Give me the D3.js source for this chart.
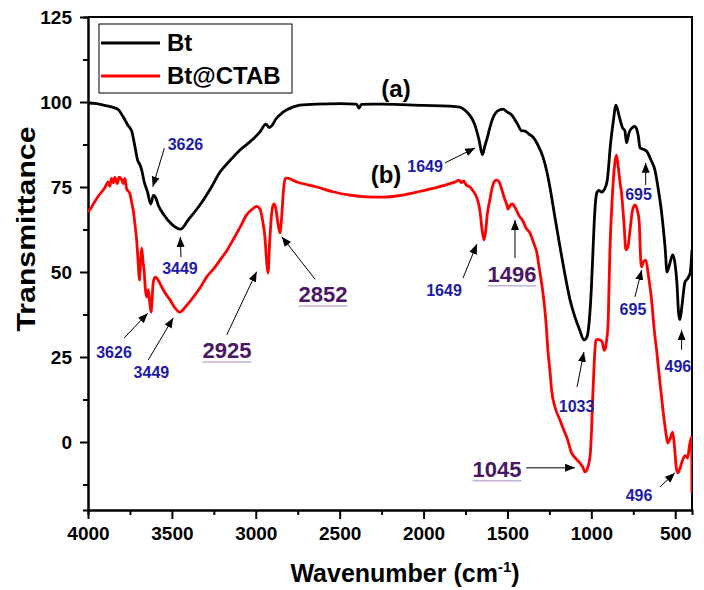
<!DOCTYPE html>
<html>
<head>
<meta charset="utf-8">
<script src="https://cdn.jsdelivr.net/npm/d3@7"></script>
<style>
  body { margin: 0; background: #fff; }
  text { font-family: "Liberation Sans", Arial, sans-serif; font-weight: bold; }
</style>
</head>
<body>
<div id="chart"></div>
<script>
// Bt spectrum (wavenumber, transmittance)
var btWave = [4000, 3950, 3900, 3850, 3820, 3790, 3760, 3740, 3720, 3705, 3690, 3680, 3665, 3645, 3626, 3610, 3598, 3580, 3550, 3500,
  3449, 3400, 3333, 3270, 3213, 3150, 3094, 3030, 2975, 2940, 2920, 2905, 2880, 2838, 2780, 2737, 2635, 2500, 2400, 2385,
  2370, 2300, 2242, 2000, 1850, 1783, 1760, 1735, 1710, 1694, 1670, 1649, 1635, 1620, 1604, 1585, 1565, 1545, 1527, 1500,
  1475, 1440, 1415, 1400, 1370, 1348, 1320, 1288, 1265, 1247, 1220, 1187, 1160, 1127, 1098, 1070, 1044, 1026, 1010, 1000,
  990, 979, 968, 955, 939, 920, 905, 885, 870, 853, 835, 815, 800, 790, 775, 755, 740, 720, 710, 695,
  670, 645, 621, 600, 581, 560, 549, 535, 515, 500, 490, 480, 472, 460, 442, 424, 410, 400];
var btTrans = [99.7, 99.5, 99.0, 98.4, 97.8, 95.6, 93.0, 91.5, 86.8, 83, 81.5, 80, 76.5, 73.5, 70.0, 72.5, 72.0, 69.5, 67, 64,
  62.6, 65.5, 69.7, 74.5, 79.4, 83, 85.9, 88.5, 91.2, 93.5, 92.5, 93.0, 95.0, 97, 98.5, 99.1, 99.4, 99.5, 99.4, 98.2,
  99.3, 99.4, 99.4, 99, 98.8, 98.5, 97.8, 96.7, 95, 93.2, 89, 84.5, 87, 89.5, 92.6, 95.5, 97.1, 97.7, 97.9, 97,
  96.2, 93.5, 91.5, 91.5, 90.5, 89.7, 87.5, 83.8, 79.5, 75, 67, 57.4, 50, 41.8, 36.8, 33, 30, 30.9, 37, 45,
  56.5, 68, 73.2, 74, 73.5, 74.5, 77, 88, 94, 99.1, 96, 92.5, 91.5, 88, 91, 92.5, 92.8, 90, 86.5, 86.2,
  85.5, 83, 80, 74, 67.4, 57, 50, 52, 55, 52, 46.8, 38, 36, 40, 47, 48.2, 50, 56.5];

// Bt@CTAB spectrum
var ctabWave = [4000, 3980, 3950, 3920, 3900, 3880, 3870, 3860, 3850, 3840, 3825, 3815, 3800, 3790, 3780, 3770, 3750, 3740, 3730, 3720,
  3710, 3700, 3694, 3687, 3680, 3672, 3666, 3658, 3650, 3641, 3632, 3624, 3617, 3611, 3600, 3590, 3575, 3561, 3540, 3511,
  3480, 3452, 3420, 3372, 3330, 3293, 3250, 3213, 3170, 3136, 3090, 3055, 3020, 2995, 2975, 2960, 2945, 2935, 2927, 2918,
  2905, 2893, 2882, 2870, 2856, 2846, 2835, 2825, 2816, 2750, 2637, 2540, 2439, 2340, 2242, 2140, 2041, 1950, 1843, 1810,
  1790, 1775, 1760, 1745, 1723, 1700, 1680, 1664, 1650, 1640, 1630, 1620, 1604, 1590, 1575, 1565, 1550, 1535, 1520, 1505,
  1496, 1485, 1470, 1455, 1430, 1408, 1390, 1366, 1340, 1326, 1310, 1288, 1270, 1259, 1245, 1237, 1215, 1187, 1160, 1147,
  1118, 1090, 1068, 1050, 1038, 1025, 1008, 1000, 992, 988, 980, 973, 960, 949, 935, 925, 919, 910, 900, 895,
  889, 875, 860, 850, 840, 828, 820, 805, 794, 782, 770, 755, 740, 725, 715, 705, 700, 690, 675, 660,
  641, 625, 611, 592, 573, 555, 545, 530, 515, 505, 495, 485, 470, 456, 440, 426, 415, 402, 400];
var ctabTrans = [67.6, 69, 71.5, 73.5, 74.7, 76.5, 75.2, 77.5, 76.2, 77.8, 76, 77.9, 77.2, 76, 77.5, 74.5, 73, 70.5, 68, 64,
  59.4, 52, 47.6, 53, 57, 53, 50.6, 45, 42.6, 44.7, 41, 38.2, 43, 47, 48.5, 48.2, 47, 45.6, 43.8, 41.8,
  39.3, 38.2, 39.7, 42.6, 45.5, 48.5, 51, 53.5, 56.5, 59.4, 63.5, 66.8, 68.5, 69.3, 68.5, 65.3, 60, 53, 49.7, 58,
  67.4, 70, 69, 65, 61.5, 66, 74, 77.5, 77.6, 76.4, 75, 73.6, 72.6, 72.1, 72, 72.5, 73.5, 74.5, 76, 76.5,
  77, 76.3, 76.8, 75.5, 75, 73.5, 71.5, 68, 62, 59.4, 62, 67, 71.5, 75, 76.8, 77, 76.5, 74.5, 72, 70,
  68.5, 69.5, 70, 69, 66.5, 65, 63, 61.5, 58, 56, 51, 43.8, 35, 27, 20, 15.3, 10, 6.5, 3, 1.5,
  -3.2, -5, -6.2, -7.5, -8.8, -8, -4.4, 2, 13, 17.4, 26, 30, 30.2, 30, 29.5, 27, 27, 29.5, 35, 45,
  56.5, 72, 82, 84.4, 81, 76, 73.2, 64, 56.5, 57.4, 62, 68, 69.7, 68, 65, 53, 51.5, 53, 53.5, 49,
  41.8, 33, 27, 18, 9.4, 2.5, -0.3, 1, 2.9, -1, -7, -9.1, -7.5, -5.3, -4, -4.7, -1, 1.5, -15];

var xTicks = [4000, 3500, 3000, 2500, 2000, 1500, 1000, 500];
var xMinor = [3750, 3250, 2750, 2250, 1750, 1250, 750];
var yTicks = [0, 25, 50, 75, 100, 125];
var yMinor = [-12.5, 12.5, 37.5, 62.5, 87.5, 112.5];

// peak labels (text position in cm-1 / %), arrows from -> to
var peakNames = ["3626", "3449", "1649", "695", "1033", "496", "3626", "3449", "2925", "2852", "1649", "1496", "695", "1045", "496"];
var peakAt = [[3419, 85.9], [3452, 49.4], [1991, 79.4], [719, 71.2], [1088, 8.8], [484, 20.6],
  [3845, 24.7], [3622, 18.8], [3172, 24.7], [2599, 41.2], [1878, 43], [1473, 47.1], [752, 37.4], [1562, -10.2], [716, -17.3]];
var arrowFrom = [[3545, 86.4], [3446, 54.4], [1872, 82.1], [676, 75.6], [1085, 16.2], [462, 27.1],
  [3784, 30.6], [3641, 24.1], [3173, 31.5], [2647, 47.9], [1765, 48.2], [1455, 54.1], [740, 42.7], [1389, -7.6], [591, -13.2]];
var arrowTo = [[3614, 75.1], [3450, 60.3], [1693, 86.5], [676, 82.1], [1044, 26.5], [462, 32.9],
  [3644, 37.9], [3492, 36.5], [2995, 50.1], [2845, 60.4], [1682, 58.2], [1455, 65.3], [700, 50.6], [1097, -7.6], [502, -9.1]];
var peakKind = ["s", "s", "s", "s", "s", "s", "s", "s", "b", "b", "s", "b", "s", "b", "s"];

var svgWidth = 704;
var svgHeight = 590;

var margin = { top: 17, right: 12, bottom: 80, left: 88 };
var width = svgWidth - margin.left - margin.right;
var height = svgHeight - margin.top - margin.bottom;

var svg = d3.select("#chart")
  .append("svg")
  .attr("width", svgWidth)
  .attr("height", svgHeight);

var chartGroup = svg.append("g")
  .attr("transform", `translate(${margin.left}, ${margin.top})`);

var xScale = d3.scaleLinear().domain([4000, 400]).range([0, width]);
var yScale = d3.scaleLinear().domain([-20, 125]).range([height, 0]);

// minor ticks first, then major axes
chartGroup.append("g")
  .attr("transform", `translate(0, ${height})`)
  .call(d3.axisBottom(xScale).tickValues(xMinor).tickSize(5).tickFormat(""));
chartGroup.append("g")
  .call(d3.axisLeft(yScale).tickValues(yMinor).tickSize(5).tickFormat(""));

chartGroup.append("g")
  .attr("transform", `translate(0, ${height})`)
  .call(d3.axisBottom(xScale).tickValues(xTicks).tickFormat(d3.format("d"))
    .tickSize(9).tickPadding(8).tickSizeOuter(0));
chartGroup.append("g")
  .call(d3.axisLeft(yScale).tickValues(yTicks).tickFormat(d3.format("d"))
    .tickSize(8).tickPadding(8).tickSizeOuter(0));

chartGroup.selectAll(".domain, .tick line")
  .attr("stroke", "#000")
  .attr("stroke-width", 2);
chartGroup.selectAll(".tick text")
  .attr("fill", "#000")
  .style("font-size", "19px")
  .style("font-family", "'Liberation Sans', Arial, sans-serif")
  .style("font-weight", "bold");

// top and right frame
chartGroup.append("path")
  .attr("d", `M0,0H${width}V${height}`)
  .attr("fill", "none")
  .attr("stroke", "#000")
  .attr("stroke-width", 2);

// clip the curves to the plot
chartGroup.append("clipPath")
  .attr("id", "plotClip")
  .append("rect")
  .attr("width", width)
  .attr("height", height);

var line = d3.line()
  .x(d => xScale(d[0]))
  .y(d => yScale(d[1]))
  .curve(d3.curveMonotoneX);

var btData = btWave.map((w, i) => [w, btTrans[i]]);
var ctabData = ctabWave.map((w, i) => [w, ctabTrans[i]]);

chartGroup.append("path")
  .datum(btData)
  .attr("clip-path", "url(#plotClip)")
  .attr("d", line)
  .attr("fill", "none")
  .attr("stroke", "#000")
  .attr("stroke-width", 2.8)
  .attr("stroke-linejoin", "round");

chartGroup.append("path")
  .datum(ctabData)
  .attr("clip-path", "url(#plotClip)")
  .attr("d", line)
  .attr("fill", "none")
  .attr("stroke", "#ff0000")
  .attr("stroke-width", 2.8)
  .attr("stroke-linejoin", "round");

// arrow head
svg.append("defs").append("marker")
  .attr("id", "head")
  .attr("viewBox", "0 0 10 10")
  .attr("refX", 10)
  .attr("refY", 5)
  .attr("markerWidth", 10)
  .attr("markerHeight", 10)
  .attr("markerUnits", "userSpaceOnUse")
  .attr("orient", "auto")
  .append("path")
  .attr("d", "M0,1L10,5L0,9Z")
  .attr("fill", "#000");

peakNames.forEach(function (name, i) {
  chartGroup.append("line")
    .attr("x1", xScale(arrowFrom[i][0]))
    .attr("y1", yScale(arrowFrom[i][1]))
    .attr("x2", xScale(arrowTo[i][0]))
    .attr("y2", yScale(arrowTo[i][1]))
    .attr("stroke", "#000")
    .attr("stroke-width", 1)
    .attr("marker-end", "url(#head)");

  var big = peakKind[i] == "b";
  var label = chartGroup.append("text")
    .attr("x", xScale(peakAt[i][0]))
    .attr("y", yScale(peakAt[i][1]))
    .attr("text-anchor", "middle")
    .style("font-size", big ? "22px" : "16px")
    .style("fill", big ? "#4a1763" : "#1c1ca8")
    .text(name);

  if (big) {
    var bb = label.node().getBBox();
    chartGroup.append("line")
      .attr("x1", bb.x)
      .attr("x2", bb.x + bb.width)
      .attr("y1", yScale(peakAt[i][1]) + 4)
      .attr("y2", yScale(peakAt[i][1]) + 4)
      .attr("stroke", "#c8b2d8")
      .attr("stroke-width", 1.5);
  }
});

// curve tags
chartGroup.append("text")
  .attr("x", xScale(2164))
  .attr("y", yScale(101.5))
  .attr("text-anchor", "middle")
  .style("font-size", "24px")
  .text("(a)");
chartGroup.append("text")
  .attr("x", xScale(2224))
  .attr("y", yScale(76.2))
  .attr("text-anchor", "middle")
  .style("font-size", "24px")
  .text("(b)");

// legend
var legend = chartGroup.append("g")
  .attr("transform", "translate(11, 7)");
legend.append("rect")
  .attr("width", 193)
  .attr("height", 69)
  .attr("fill", "#fff")
  .attr("stroke", "#000")
  .attr("stroke-width", 1);
var legendNames = ["Bt", "Bt@CTAB"];
var legendColors = ["#000", "#ff0000"];
legendNames.forEach(function (name, i) {
  legend.append("line")
    .attr("x1", 2)
    .attr("x2", 61)
    .attr("y1", 19 + i * 33)
    .attr("y2", 19 + i * 33)
    .attr("stroke", legendColors[i])
    .attr("stroke-width", 3);
  legend.append("text")
    .attr("x", 68)
    .attr("y", 27 + i * 33)
    .style("font-size", "24px")
    .text(name);
});

// axes labels
svg.append("text")
  .attr("transform", "rotate(-90)")
  .attr("x", -229)
  .attr("y", 35)
  .attr("text-anchor", "middle")
  .attr("textLength", 205)
  .attr("lengthAdjust", "spacingAndGlyphs")
  .style("font-size", "26px")
  .text("Transmittance");

var xLabel = svg.append("text")
  .attr("x", 405)
  .attr("y", 582)
  .attr("text-anchor", "middle")
  .style("font-size", "25px")
  .text("Wavenumber (cm");
xLabel.append("tspan")
  .attr("dy", -10)
  .style("font-size", "15px")
  .text("-1");
xLabel.append("tspan")
  .attr("dy", 10)
  .text(")");
</script>
</body>
</html>
